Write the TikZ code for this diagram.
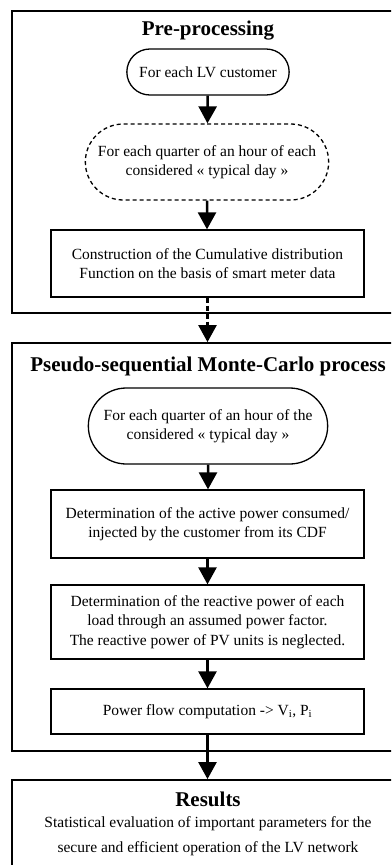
\documentclass[tikz,border=0pt]{standalone}
\usepackage{fontspec}
\setmainfont{Liberation Serif}
\usetikzlibrary{arrows.meta, positioning, shapes.misc}

\tikzset{
    frame/.style={draw, line width=1.8pt, minimum width=392pt, inner sep=0pt},
    stepbox/.style={draw, line width=1.3pt, minimum width=313pt, align=center,
        font=\fontsize{15.5}{19.5}\selectfont},
    loopbox/.style={draw, line width=1.3pt, rounded rectangle, align=center,
        font=\fontsize{15.5}{18.5}\selectfont},
    heading/.style={font=\fontsize{21}{24}\selectfont\bfseries, anchor=base, inner sep=0pt},
    flow/.style={line width=2.5pt, -{Triangle[width=18pt, length=17pt]}}
}

\begin{document}
\begin{tikzpicture}[x=1pt, y=-1pt]
    \useasboundingbox (0,0) rectangle (391,865);
    \clip (0,0) rectangle (391,865);

    % frames
    \node[frame, minimum height=302pt] (pre) at (208,162) {};
    \node[frame, minimum height=408pt] (mc) at (208,547) {};
    \node[frame, minimum height=110pt] (res) at (208,835) {};

    \node[heading] (pretitle) at (208,35) {Pre-processing};
    \node[heading] (mctitle) at (208,371) {Pseudo-sequential Monte-Carlo process};
    \node[heading] (restitle) at (208,806) {Results};

    % pre-processing
    \node[loopbox, minimum width=169pt, minimum height=46pt] (lvcust) at (208,72) {For each LV customer};
    \node[loopbox, dash pattern=on 4pt off 3pt, minimum width=250pt, minimum height=76pt] (quarter) at (207,162)
        {For each quarter of an hour of each\\considered « typical day »};
    \node[stepbox, minimum height=67pt] (cdf) at (207.5,263.5)
        {Construction of the Cumulative distribution\\Function on the basis of smart meter data};

    % monte-carlo
    \node[loopbox, minimum width=246pt, minimum height=76pt] (quartermc) at (208,426)
        {For each quarter of an hour of the\\considered « typical day »};
    \node[stepbox, minimum height=68pt] (active) at (207.5,524)
        {Determination of the active power consumed/\\injected by the customer from its CDF};
    \node[stepbox, minimum height=74pt] (reactive) at (207.5,622)
        {Determination of the reactive power of each\\load through an assumed power factor.\\The reactive power of PV units is neglected.};
    \node[stepbox, minimum height=45pt] (pflow) at (207.5,711.5)
        {Power flow computation -> V\textsubscript{i}, P\textsubscript{i}};

    % results
    \node[align=center, font=\fontsize{15.5}{25}\selectfont] (resbody) at (208,836.5)
        {Statistical evaluation of important parameters for the\\secure and efficient operation of the LV network};

    \draw[flow] (lvcust) -- (quarter);
    \draw[flow] (quarter) -- (quarter |- cdf.north);
    \draw[flow, dash pattern=on 5pt off 3pt] (cdf.south) -- (cdf.south |- mc.north);
    \draw[flow] (quartermc) -- (quartermc |- active.north);
    \draw[flow] (active) -- (reactive);
    \draw[flow] (reactive) -- (pflow);
    \draw[flow] (pflow.south) -- (pflow.south |- res.north);
\end{tikzpicture}
\end{document}
